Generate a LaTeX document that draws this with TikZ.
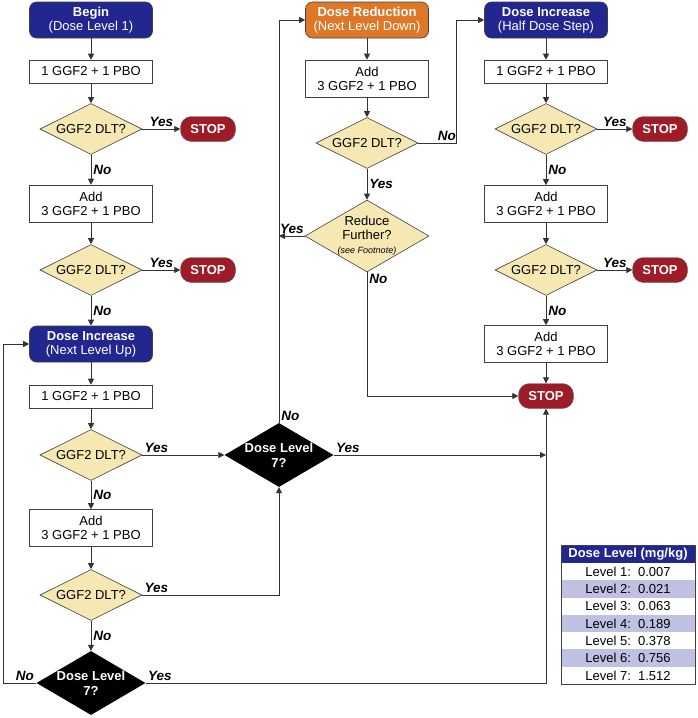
\documentclass[tikz,border=0pt]{standalone}
\usepackage{fontspec}
\setmainfont{Liberation Sans}
\usepackage{xcolor}
\usetikzlibrary{shapes.geometric,arrows.meta,positioning}
\definecolor{navyblue}{RGB}{33,39,142}
\definecolor{reduceorange}{RGB}{222,120,40}
\definecolor{stopred}{RGB}{158,27,40}
\definecolor{cream}{RGB}{246,232,178}
\definecolor{lavender}{RGB}{192,192,226}

\begin{document}
\begin{tikzpicture}[x=1pt, y=-1pt, font=\fontsize{13}{14}\selectfont,
    arr/.style={draw=black!80, line width=0.8pt, -{Triangle[length=6pt,width=6pt]}},
    lbl/.style={font=\fontsize{13.5}{14}\selectfont\bfseries\itshape, inner sep=2pt},
    stepbox/.style={draw=black!75, fill=white, line width=0.6pt, minimum width=123pt, inner sep=0pt, align=center},
    onebox/.style={stepbox, minimum height=23pt},
    twobox/.style={stepbox, minimum height=37pt},
    phasebox/.style={stepbox, rounded corners=7pt, minimum height=36pt, fill=navyblue, text=white},
    question/.style={diamond, shape aspect=2, draw=black!75, fill=cream, line width=0.6pt, minimum width=102pt, minimum height=51pt, inner sep=-2pt, align=center},
    maxcheck/.style={diamond, shape aspect=1.7, fill=black, text=white, font=\fontsize{13}{15}\selectfont\bfseries, minimum width=109pt, minimum height=64pt, inner sep=-6pt, align=center},
    stopnode/.style={draw=black!60, fill=stopred, text=white, font=\fontsize{13}{14}\selectfont\bfseries, rounded corners=11pt, minimum width=55pt, minimum height=25pt, inner sep=0pt},
    tabrow/.style={minimum width=134pt, minimum height=17.29pt, inner sep=0pt, outer sep=0pt},
    tabhead/.style={tabrow, minimum height=18pt, fill=navyblue, text=white, font=\fontsize{13}{14}\selectfont\bfseries}]

    \useasboundingbox (0,0) rectangle (697,718);

    % left column
    \node[phasebox] (begin) at (91,20) {\textbf{Begin}\\(Dose Level 1)};
    \node[onebox] (give1) at (91,71.5) {1 GGF2 + 1 PBO};
    \node[question] (dlt1) at (91,129) {GGF2 DLT?};
    \node[stopnode] (stop1) at (208,129) {STOP};
    \node[twobox] (add1) at (91,203.5) {Add\\3 GGF2 + 1 PBO};
    \node[question] (dlt2) at (91,270) {GGF2 DLT?};
    \node[stopnode] (stop2) at (208,270) {STOP};
    \node[phasebox] (incup) at (91,344) {\textbf{Dose Increase}\\(Next Level Up)};
    \node[onebox] (give2) at (91,396.5) {1 GGF2 + 1 PBO};
    \node[question] (dlt3) at (91,455) {GGF2 DLT?};
    \node[twobox] (add2) at (91,528) {Add\\3 GGF2 + 1 PBO};
    \node[question] (dlt4) at (91,595) {GGF2 DLT?};
    \node[maxcheck] (max1) at (91,683) {Dose Level\\7?};
    \node[maxcheck] (max2) at (279,455) {Dose Level\\7?};

    % middle column
    \node[phasebox, fill=reduceorange] (reduction) at (367,20) {\textbf{Dose Reduction}\\(Next Level Down)};
    \node[twobox] (add3) at (367,78.5) {Add\\3 GGF2 + 1 PBO};
    \node[question] (dlt5) at (367,143) {GGF2 DLT?};
    \node[question, shape aspect=1.72, minimum width=124pt, minimum height=72pt, inner sep=-4pt] (further) at (367,236)
        {Reduce\\Further?\\{\fontsize{9}{10}\selectfont\itshape(see Footnote)}};

    % right column
    \node[phasebox] (inchalf) at (546,20) {\textbf{Dose Increase}\\(Half Dose Step)};
    \node[onebox] (give3) at (546,71.5) {1 GGF2 + 1 PBO};
    \node[question] (dlt6) at (546,129) {GGF2 DLT?};
    \node[stopnode] (stop3) at (660,129) {STOP};
    \node[twobox] (add4) at (546,204) {Add\\3 GGF2 + 1 PBO};
    \node[question] (dlt7) at (546,270) {GGF2 DLT?};
    \node[stopnode] (stop4) at (660,270) {STOP};
    \node[twobox] (add5) at (546,344) {Add\\3 GGF2 + 1 PBO};
    \node[stopnode] (stopend) at (546,396) {STOP};

    % left column arrows
    \draw[arr] (begin) -- (give1);
    \draw[arr] (give1) -- (dlt1);
    \draw[arr] (dlt1) -- node[lbl, above] {Yes} (stop1);
    \draw[arr] (dlt1) -- node[lbl, right] {No} (add1);
    \draw[arr] (add1) -- (dlt2);
    \draw[arr] (dlt2) -- node[lbl, above] {Yes} (stop2);
    \draw[arr] (dlt2) -- node[lbl, right] {No} (incup);
    \draw[arr] (incup) -- (give2);
    \draw[arr] (give2) -- (dlt3);
    \draw[arr] (dlt3) -- node[lbl, above right, pos=0] {Yes} (max2);
    \draw[arr] (dlt3) -- node[lbl, right] {No} (add2);
    \draw[arr] (add2) -- (dlt4);
    \draw[arr] (dlt4.east) -| node[lbl, above right, pos=0] {Yes} (max2.south);
    \draw[arr] (dlt4) -- node[lbl, right] {No} (max1);
    \draw[arr] (max1.west) -- node[lbl, above left, pos=0] {No} ++(-33pt,0) |- (incup.west);
    \draw[arr] (max1.east) -| node[lbl, above right, pos=0] {Yes} (stopend.south);

    % middle column arrows
    \coordinate (join) at (stopend.south |- max2.east);
    \coordinate (tee) at (max2.north |- further.west);
    \draw[arr] (max2.east) -- node[lbl, above right, pos=0] {Yes} (join);
    \draw[arr] (max2.north) -- node[lbl, above right, pos=0] {No} (max2.north |- reduction.west) -- (reduction.west);
    \draw[arr] (reduction) -- (add3);
    \draw[arr] (add3) -- (dlt5);
    \draw[arr] (dlt5.east) -- node[lbl, above, pos=0.75] {No} ++(38pt,0) |- (inchalf.west);
    \draw[arr] (dlt5) -- node[lbl, right] {Yes} (further);
    \draw[arr] (further.west) -- node[lbl, above] {Yes} (tee);
    \draw[arr] (further.south) |- node[lbl, below right, pos=0] {No} (stopend.west);

    % right column arrows
    \draw[arr] (inchalf) -- (give3);
    \draw[arr] (give3) -- (dlt6);
    \draw[arr] (dlt6) -- node[lbl, above] {Yes} (stop3);
    \draw[arr] (dlt6) -- node[lbl, right] {No} (add4);
    \draw[arr] (add4) -- (dlt7);
    \draw[arr] (dlt7) -- node[lbl, above] {Yes} (stop4);
    \draw[arr] (dlt7) -- node[lbl, right] {No} (add5);
    \draw[arr] (add5) -- (stopend);

    % dose table
    \node[tabhead] (row0) at (628,554) {Dose Level (mg/kg)};
    \foreach \val/\tint [count=\i] in {0.007/white, 0.021/lavender, 0.063/white, 0.189/lavender,
                                        0.378/white, 0.756/lavender, 1.512/white} {
        \pgfmathtruncatemacro{\prev}{\i-1}
        \node[tabrow, fill=\tint, below=0pt of row\prev] (row\i) {Level \i:\ \ \val};
    }
    \draw[black!75, line width=0.8pt] (row0.north west) rectangle (row7.south east);
\end{tikzpicture}
\end{document}
